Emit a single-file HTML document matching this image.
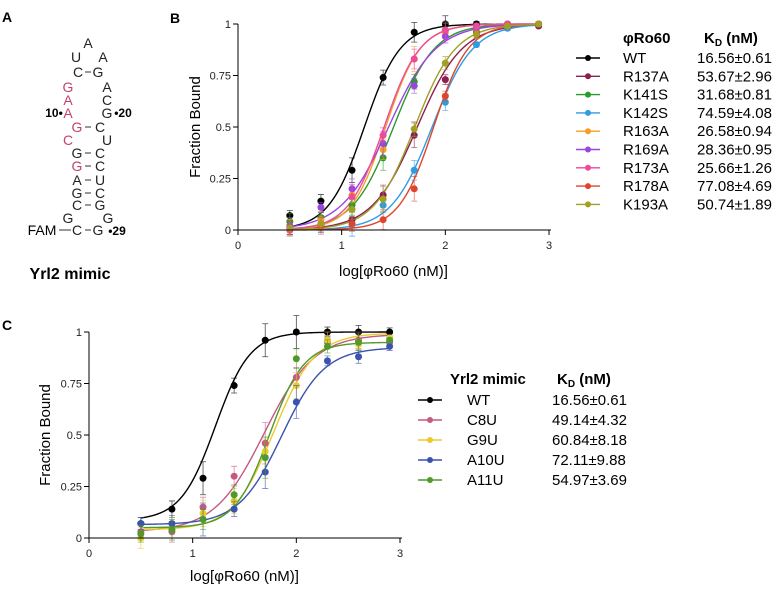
<!DOCTYPE html>
<html><head><meta charset="utf-8">
<style>
html,body{margin:0;padding:0;background:#fff;}
body{width:782px;height:586px;overflow:hidden;font-family:"Liberation Sans",sans-serif;}
svg text{font-family:"Liberation Sans",sans-serif;}
</style></head>
<body>
<svg id="fig" width="782" height="586" viewBox="0 0 782 586" xmlns="http://www.w3.org/2000/svg">
  <text x="2" y="22" font-size="14" font-weight="bold">A</text>
  <text x="170" y="23" font-size="14" font-weight="bold">B</text>
  <text x="2" y="330" font-size="14" font-weight="bold">C</text>
  <g id="rna" font-size="14" text-anchor="middle"></g>
  <text x="70" y="279" font-size="16" font-weight="bold" text-anchor="middle">Yrl2 mimic</text>
  <g id="chartB"></g>
  <g id="chartC"></g>
</svg>
<script>
// ---------- Panel B data ----------
const xsB = [0.5,0.8,1.1,1.4,1.7,2.0,2.3,2.6,2.9];
const namesB = ["WT","R137A","K141S","K142S","R163A","R169A","R173A","R178A","K193A"];
const kdB = ["16.56±0.61","53.67±2.96","31.68±0.81","74.59±4.08","26.58±0.94","28.36±0.95","25.66±1.26","77.08±4.69","50.74±1.89"];
const kdValB = [16.56,53.67,31.68,74.59,26.58,28.36,25.66,77.08,50.74];
const hillB = [2.5,2.0,2.2,2.2,2.6,1.9,2.5,2.6,2.2];
const colorsB = ["#000000","#8b1f50","#2a9a2a","#2f9be0","#f5a023","#9a45e0","#ee4a9c","#e0452c","#a0a025"];
const ptsWT  = [0.07,0.14,0.29,0.74,0.96,1.0,1.0,1.0,1.0];
const ptsR137A = [0.01,0.03,0.05,0.17,0.46,0.73,0.96,0.98,0.99];
const ptsK141S = [0.04,0.06,0.12,0.35,0.72,0.97,0.98,0.99,1.0];
const ptsK142S = [0.0,0.02,0.03,0.12,0.29,0.62,0.90,0.98,1.0];
const ptsR163A = [0.02,0.05,0.17,0.39,0.83,0.96,0.98,1.0,1.0];
const ptsR169A = [0.02,0.11,0.20,0.42,0.70,0.94,0.98,1.0,1.0];
const ptsR173A = [0.0,0.03,0.16,0.46,0.83,0.97,0.99,1.0,1.0];
const ptsR178A = [0.01,0.02,0.03,0.05,0.20,0.65,0.95,0.99,1.0];
const ptsK193A = [0.01,0.03,0.10,0.15,0.49,0.81,0.95,0.99,1.0];
const errB = [0.04,0.04,0.06,0.06,0.06,0.04,0.02,0.01,0.01];
const seriesB = [ptsWT,ptsR137A,ptsK141S,ptsK142S,ptsR163A,ptsR169A,ptsR173A,ptsR178A,ptsK193A];
// ---------- Panel C data ----------
const xsC = [0.5,0.8,1.1,1.4,1.7,2.0,2.3,2.6,2.9];
const namesC = ["WT","C8U","G9U","A10U","A11U"];
const kdC = ["16.56±0.61","49.14±4.32","60.84±8.18","72.11±9.88","54.97±3.69"];
const kdValC = [16.56,49.14,60.84,72.11,54.97];
const hillC = [2.6,1.8,2.2,2.1,2.6];
const botC = [0.085,0.03,0.04,0.065,0.05];
const topC = [1.0,0.99,0.995,0.925,0.95];
const colorsC = ["#000000","#c45a82","#e8cc2e","#3a52b0","#4f9a2a"];
const ptsC_WT = [0.07,0.14,0.29,0.74,0.96,1.0,1.0,1.0,1.0];
const ptsC_C8U = [0.03,0.03,0.15,0.30,0.46,0.78,0.95,0.96,0.95];
const ptsC_G9U = [0.0,0.07,0.12,0.18,0.42,0.74,0.96,0.94,0.97];
const ptsC_A10U = [0.07,0.07,0.09,0.14,0.32,0.66,0.86,0.88,0.93];
const ptsC_A11U = [0.02,0.04,0.09,0.21,0.39,0.87,0.93,0.95,0.96];
const errC = [0.05,0.05,0.08,0.06,0.1,0.08,0.04,0.04,0.02];
const seriesC = [ptsC_WT,ptsC_C8U,ptsC_G9U,ptsC_A10U,ptsC_A11U];
const yTicks = [0,0.25,0.5,0.75,1];
const yTickLabels = ["0","0.25","0.5","0.75","1"];
const xTicks = [0,1,2,3];

const NS="http://www.w3.org/2000/svg";
function mk(parent,tag,attrs,text){const e=document.createElementNS(NS,tag);for(const k in attrs)e.setAttribute(k,attrs[k]);if(text!==undefined)e.textContent=text;parent.appendChild(e);return e;}

function drawChart(g,cfg){
  const sx=v=>cfg.x0+(v-0)/3*(cfg.x3-cfg.x0);
  const sy=v=>cfg.y0+(v)*(cfg.y1-cfg.y0);
  cfg.series.forEach((pts,i)=>{
    let d="";
    for(let k=0;k<=120;k++){
      const xv=cfg.xs[0]+(cfg.xs[cfg.xs.length-1]-cfg.xs[0])*k/120;
      const lk=Math.log10(cfg.kd[i]);
      const b=cfg.bot?cfg.bot[i]:0, t=cfg.top?cfg.top[i]:1;
      const yv=b+(t-b)/(1+Math.pow(10,(lk-xv)*cfg.hill[i]));
      d+=(k?"L":"M")+sx(xv).toFixed(2)+","+sy(yv).toFixed(2);
    }
    const p=mk(g,"path",{d:d,fill:"none",stroke:cfg.colors[i],"stroke-width":1.4});
    
    
  });
  cfg.series.forEach((pts,i)=>{
    pts.forEach((v,j)=>{
      const e=cfg.err[j]*(0.6+0.4*((i+j)%3)/2);
      const x=sx(cfg.xs[j]);
      const eb=mk(g,"path",{d:`M${x},${sy(v-e)}L${x},${sy(v+e)}M${x-3},${sy(v-e)}L${x+3},${sy(v-e)}M${x-3},${sy(v+e)}L${x+3},${sy(v+e)}`,stroke:cfg.colors[i],"stroke-width":0.8,fill:"none","stroke-opacity":0.7});
      
      
      const c=mk(g,"circle",{cx:x,cy:sy(v),r:3.5,fill:cfg.colors[i]});
      
      
    });
  });
  const ax=mk(g,"path",{d:`M${cfg.x0},${cfg.y1}L${cfg.x0},${cfg.y0}L${cfg.x3+2},${cfg.y0}`,stroke:"#000","stroke-width":1,fill:"none"});
  
  
  yTicks.forEach((t,i)=>{
    mk(g,"line",{x1:cfg.x0-5,x2:cfg.x0,y1:sy(t),y2:sy(t),stroke:"#000"});
    const tl=mk(g,"text",{x:cfg.x0-7,y:sy(t)+4,"font-size":11,"text-anchor":"end",fill:"#222"},yTickLabels[i]);
    
    
  });
  xTicks.forEach(t=>{
    mk(g,"line",{x1:sx(t),x2:sx(t),y1:cfg.y0,y2:cfg.y0+5,stroke:"#000"});
    const tl=mk(g,"text",{x:sx(t),y:cfg.y0+19,"font-size":11,"text-anchor":"middle",fill:"#222"},String(t));
    
    
  });
  const yt=mk(g,"text",{x:0,y:0,"font-size":15,"text-anchor":"middle",transform:`translate(${cfg.ytx},${(cfg.y0+cfg.y1)/2}) rotate(-90)`},"Fraction Bound");
  
  
  const xt=mk(g,"text",{x:(cfg.x0+cfg.x3)/2,y:cfg.xty,"font-size":15,"text-anchor":"middle"},"log[φRo60 (nM)]");
  
  
  const L=cfg.leg;
  const h1=mk(g,"text",{x:L.headX,y:L.headY,"font-size":15,"font-weight":"bold"},L.header);
  
  
  const h2=mk(g,"text",{x:L.kdX,y:L.headY,"font-size":15,"font-weight":"bold"});
  
  
  mk(h2,"tspan",{},"K");mk(h2,"tspan",{"font-size":10,dy:3},"D");mk(h2,"tspan",{dy:-3}," (nM)");
  cfg.names.forEach((n,i)=>{
    const y=L.y0+i*L.dy;
    const eg=mk(g,"g",{});
    
    
    mk(eg,"line",{x1:L.lx1,x2:L.lx2,y1:y,y2:y,stroke:cfg.colors[i],"stroke-width":1.4});
    mk(eg,"circle",{cx:(L.lx1+L.lx2)/2,cy:y,r:3,fill:cfg.colors[i]});
    mk(eg,"text",{x:L.nameX,y:y+5,"font-size":15},n);
    mk(eg,"text",{x:L.valX,y:y+5,"font-size":15},cfg.kdText[i]);
  });
}

drawChart(document.getElementById("chartB"),{x0:238,x3:549,y0:230,y1:24,xs:xsB,series:seriesB,names:namesB,kd:kdValB,hill:hillB,colors:colorsB,err:errB,kdText:kdB,ytx:200,xty:276,
  leg:{header:"φRo60",headX:623,headY:43,nameX:623,kdX:704,valX:697,y0:58,dy:18.3,lx1:576,lx2:600}});
drawChart(document.getElementById("chartC"),{x0:89,x3:400,y0:538,y1:332,xs:xsC,series:seriesC,names:namesC,kd:kdValC,hill:hillC,bot:botC,top:topC,colors:colorsC,err:errC,kdText:kdC,ytx:50,xty:581,
  leg:{header:"Yrl2 mimic",headX:450,headY:384,nameX:467,kdX:557,valX:552,y0:400,dy:20,lx1:418,lx2:442}});

// ---------- RNA structure ---------- [letter, x, centerY, red]
const rnaLetters = [
 ["A",88,43,0],["U",76,57,0],["A",103,57,0],["C",78,72,0],["G",98,72,0],
 ["G",68,87,1],["A",107,87,0],["A",68,100,1],["C",107,100,0],["A",68,113,1],["G",107,113,0],
 ["G",77,127,1],["C",100,127,0],["C",68,140,1],["U",107,140,0],["G",77,153,0],["C",100,153,0],
 ["G",77,166,1],["C",100,166,0],["A",77,180,0],["U",100,180,0],["G",77,193,0],["C",100,193,0],
 ["C",77,205,0],["G",100,205,0],["G",68,218,0],["G",108,218,0],["C",77,230,0],["G",98,230,0]
];
const rna=document.getElementById("rna");
rnaLetters.forEach(l=>{
  const t=mk(rna,"text",{x:l[1],y:l[2]+5,fill:l[3]?"#c2436a":"#222"},l[0]);
  
  
});
[72,127,153,166,180,193,205,230].forEach(y=>{mk(rna,"line",{x1:85,x2:91,y1:y,y2:y,stroke:"#333","stroke-width":1});});
mk(rna,"line",{x1:59,x2:71,y1:230,y2:230,stroke:"#333","stroke-width":1});
mk(rna,"text",{x:42,y:235},"FAM");
mk(rna,"text",{x:54,y:117,"font-size":12,"font-weight":"bold"},"10•");
mk(rna,"text",{x:123,y:117,"font-size":12,"font-weight":"bold"},"•20");
mk(rna,"text",{x:117,y:235,"font-size":12,"font-weight":"bold"},"•29");
</script>
</body></html>
